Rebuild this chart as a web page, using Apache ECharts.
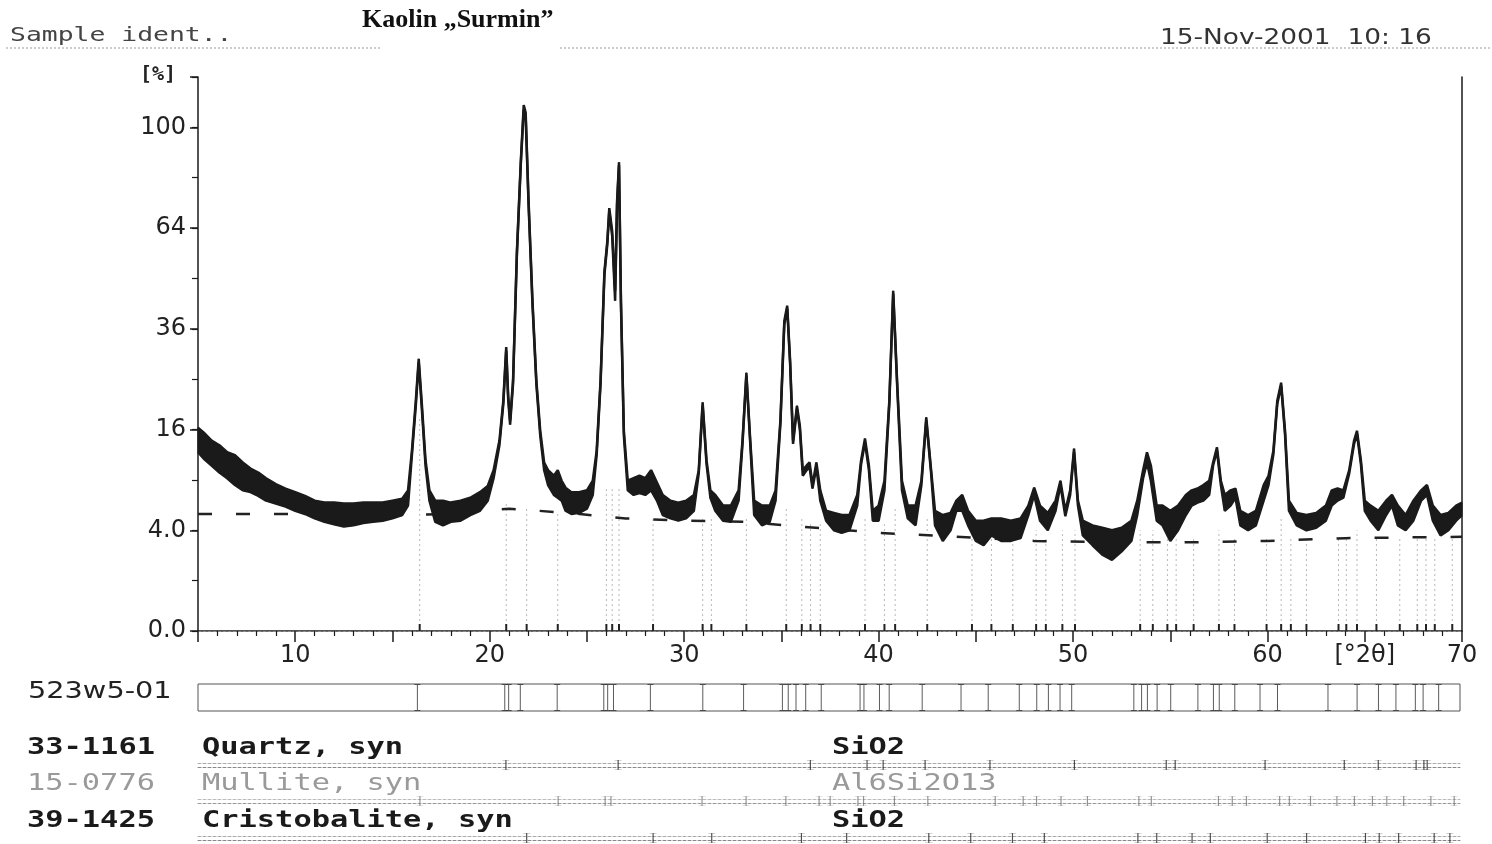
<!DOCTYPE html>
<html>
<head>
<meta charset="utf-8">
<script src="https://cdn.jsdelivr.net/npm/echarts@6/dist/echarts.min.js"></script>
<style>
html, body { margin: 0; padding: 0; background: #fff; }
#chart { width: 1492px; height: 844px; }
</style>
</head>
<body>
<div id="chart"></div>
<script>
// scan: 2theta and the lower / upper edge of the noisy trace, in %
var twoTheta = [
  5.0,5.3,5.7,6.1,6.5,6.9,7.3,7.7,8.1,8.5,
  9.0,9.5,10.0,10.5,11.0,11.5,12.0,12.5,13.0,13.5,
  14.0,14.5,15.0,15.5,15.8,16.0,16.2,16.35,16.5,16.7,
  16.9,17.2,17.6,18.0,18.5,19.0,19.5,19.9,20.2,20.5,
  20.7,20.85,20.95,21.05,21.2,21.4,21.6,21.75,21.85,22.0,
  22.2,22.4,22.6,22.8,23.0,23.3,23.5,23.7,23.9,24.2,
  24.6,25.0,25.3,25.5,25.7,25.9,26.05,26.15,26.3,26.45,
  26.55,26.65,26.75,26.9,27.1,27.4,27.7,28.0,28.3,28.6,
  28.9,29.3,29.7,30.1,30.5,30.75,30.95,31.15,31.35,31.6,
  32.0,32.4,32.8,33.0,33.2,33.4,33.6,34.0,34.4,34.7,
  34.95,35.15,35.3,35.45,35.6,35.8,35.95,36.1,36.3,36.45,
  36.6,36.8,37.0,37.3,37.7,38.1,38.5,38.9,39.1,39.3,
  39.5,39.7,40.0,40.3,40.55,40.75,40.95,41.2,41.5,41.9,
  42.2,42.45,42.7,42.9,43.3,43.7,44.0,44.3,44.6,45.0,
  45.4,45.8,46.3,46.8,47.3,47.7,48.0,48.3,48.7,49.1,
  49.35,49.6,49.85,50.05,50.25,50.5,51.0,51.5,52.0,52.5,
  53.0,53.3,53.6,53.8,54.0,54.3,54.6,55.0,55.4,55.8,
  56.1,56.4,56.7,57.0,57.2,57.4,57.6,57.8,58.1,58.35,
  58.6,59.0,59.4,59.8,60.05,60.3,60.5,60.7,60.9,61.1,
  61.5,62.0,62.5,63.0,63.3,63.6,63.9,64.2,64.45,64.6,
  64.8,65.0,65.3,65.7,66.1,66.4,66.7,67.1,67.5,67.9,
  68.2,68.5,68.9,69.3,69.7,70.0
];
var traceLow = [
  12.6,11.7,10.8,9.9,9.2,8.4,7.8,7.6,7.2,6.7,
  6.4,6.1,5.7,5.4,5.0,4.7,4.5,4.3,4.4,4.6,
  4.7,4.8,5.0,5.3,6.2,12.2,20.0,28.4,20.0,10.8,
  6.7,4.7,4.4,4.7,4.8,5.3,5.7,6.7,9.2,13.6,
  20.3,31.0,21.2,16.8,24.0,56.0,86.0,107,104,71.5,
  42.0,24.0,15.0,10.2,8.4,7.3,7.0,6.7,5.7,5.4,
  5.5,5.9,7.3,12.2,24.0,50.0,59.0,69.5,61.5,43.0,
  71.5,85.5,42.0,15.0,7.8,7.3,7.5,7.3,7.8,6.7,
  5.3,5.0,4.8,5.0,5.7,9.8,20.0,11.0,7.0,5.7,
  4.8,4.7,6.7,13.8,25.7,13.8,5.3,4.4,4.7,6.7,
  17.0,37.0,41.0,28.0,13.8,19.5,16.0,9.5,10.2,10.6,
  8.0,10.6,6.7,4.8,4.0,3.8,4.0,6.2,11.0,14.0,
  10.2,4.8,4.8,7.8,20.3,44.8,24.0,7.8,5.0,4.4,
  8.4,17.5,9.8,4.4,3.2,4.0,5.7,5.7,4.4,3.2,
  2.9,3.6,3.2,3.2,3.4,5.3,7.3,4.8,4.0,5.7,
  8.4,5.2,7.3,12.6,6.2,3.6,2.9,2.3,2.0,2.5,
  3.2,5.3,9.2,11.2,8.9,4.8,4.4,3.2,4.0,5.3,
  6.2,6.5,6.7,7.3,10.8,12.8,8.4,5.7,6.2,7.0,
  4.4,4.0,4.4,6.7,8.4,12.3,20.3,23.7,15.2,5.7,
  4.4,4.0,4.2,4.8,6.2,6.7,7.0,9.8,13.8,15.3,
  11.0,5.7,4.8,4.0,5.3,6.2,4.4,4.0,4.8,6.7,
  7.3,4.8,3.6,4.0,4.8,5.3
];
var traceHigh = [
  16.3,15.5,14.3,13.6,12.6,12.2,11.2,10.4,9.9,9.2,
  8.5,8.0,7.6,7.2,6.7,6.5,6.5,6.4,6.4,6.5,
  6.5,6.5,6.7,6.9,7.8,12.8,20.9,29.2,20.9,11.5,
  7.8,6.7,6.7,6.5,6.7,7.0,7.6,8.3,10.2,14.3,
  20.9,31.8,21.9,17.5,24.7,56.9,87.0,109,106,72.8,
  43.0,24.7,15.8,11.2,10.2,9.5,10.2,8.9,8.1,7.6,
  7.6,7.8,8.9,12.8,24.7,51.0,60.0,70.5,63.0,45.6,
  72.8,86.6,43.0,15.8,8.9,9.2,9.5,9.2,10.2,8.7,
  7.3,6.7,6.5,6.7,7.3,10.2,20.6,11.5,7.8,7.3,
  6.2,6.2,7.8,14.3,26.3,14.3,6.7,6.2,6.2,7.8,
  17.5,37.9,41.7,28.8,14.3,20.0,16.6,10.2,10.8,11.2,
  8.4,11.2,7.8,5.7,5.5,5.3,5.3,7.3,11.5,14.6,
  10.8,5.7,6.2,8.9,20.9,45.6,24.7,8.9,6.2,6.2,
  8.9,18.0,10.2,5.7,5.3,5.5,6.7,7.3,5.7,4.8,
  4.8,5.0,5.0,4.8,5.0,6.2,8.1,6.2,5.5,6.7,
  8.9,5.7,7.8,13.1,6.7,4.8,4.4,4.2,4.0,4.2,
  4.8,6.7,10.2,12.6,10.8,6.2,6.2,5.7,6.2,7.3,
  7.8,8.0,8.4,8.9,11.2,13.3,8.9,7.3,7.8,8.0,
  5.7,5.3,5.7,8.4,9.5,12.8,20.9,24.3,15.8,6.7,
  5.5,5.3,5.5,6.2,7.8,8.0,7.8,10.2,14.3,15.8,
  11.5,6.7,6.2,5.7,6.7,7.3,6.2,5.3,6.7,7.8,
  8.4,6.2,5.3,5.5,6.2,6.5
];

// fitted background (dashed)
var bgTheta = [5,10,15,18,21,24,27,30,33,36,40,44,48,52,56,60,64,70];
var bgPct = [5.4,5.4,5.3,5.4,5.9,5.5,5.0,4.8,4.7,4.3,3.8,3.5,3.2,3.1,3.1,3.2,3.4,3.5];

// reference sticks drawn under the scan
var stickTheta = [16.4,20.85,21.9,23.5,26.0,26.3,26.65,28.4,30.95,31.4,33.2,35.25,36.05,36.5,37.0,39.3,
  40.3,40.85,42.5,44.8,45.8,46.9,48.1,48.6,49.45,50.1,53.45,54.1,54.85,55.3,56.2,57.5,58.3,59.95,
  60.7,61.2,62.0,63.65,64.05,64.6,65.6,66.8,67.7,68.15,68.6,69.5];
var stickTop = [18,6.5,6,5.5,8,8,8,5,5,5,5,6,5,4.5,4.5,5,
  4.5,6,5,4,3.5,3.5,4,3.5,4,4,4,4,3.5,3.5,3.5,4,3.5,3.5,
  5,3.5,3.5,3.5,3.5,4,3.5,3.5,3.5,3.5,3.5,3.5];

// peak list of the sample (523w5-01)
var obsTheta = [16.3,20.8,21.0,21.6,23.5,25.9,26.1,26.4,28.3,31.0,33.1,35.1,35.4,35.8,36.3,37.1,
  39.1,39.3,40.1,40.6,42.3,44.3,45.7,47.3,48.2,48.8,49.4,50.0,53.2,53.6,53.9,54.4,55.1,
  56.5,57.3,57.6,58.4,59.7,60.6,63.2,64.7,65.8,66.7,67.7,68.1,68.9];

// reference patterns
var quartzTheta = [20.86,26.64,36.54,39.46,40.29,42.45,45.79,50.14,54.87,55.33,59.96,64.04,65.79,67.74,68.14,68.31];
var mulliteTheta = [16.43,23.55,25.97,26.27,30.96,33.23,35.28,36.99,37.56,38.99,39.28,40.87,42.59,46.06,
  47.5,48.19,49.45,50.81,53.46,54.1,57.56,58.27,59.0,60.71,61.21,62.3,63.66,64.56,65.49,66.23,67.1,68.5,69.7];
var cristobaliteTheta = [21.93,28.44,31.46,36.08,38.41,42.64,44.8,46.95,48.59,53.41,54.38,56.2,57.14,
  60.07,62.1,65.13,65.84,66.84,68.67,69.48];

// tick labels
var xLabelValues = [10,20,30,40,50,60,65,70];
var xLabelTexts = ['10','20','30','40','50','60','[°2θ]','70'];
var yTickValues = [0,4,16,36,64,100];
var yTickTexts = ['0.0','4.0','16','36','64','100'];

function sq(v) { return Math.sqrt(Math.max(v, 0)); }

var chart = echarts.init(document.getElementById('chart'));

// the y axis is drawn on a square-root scale, so the series carry sqrt(%)
var lowData = twoTheta.map(function (t, i) { return [t, sq(traceLow[i])]; });
var highData = twoTheta.map(function (t, i) { return [t, sq(traceHigh[i])]; });
var bandData = twoTheta.map(function (t, i) { return [t, sq(traceLow[i]), sq(traceHigh[i])]; });
var bgData = bgTheta.map(function (t, i) { return [t, sq(bgPct[i])]; });
var stickData = stickTheta.map(function (t, i) { return [t, sq(stickTop[i])]; });

var ibeam = 'path://M0,0H6V1H3.5V26H6V27H0V26H2.5V1H0Z';
var monoFont = 'DejaVu Sans Mono';
var black = '#1a1a1a';

function hiddenX(grid, pos, color) {
  return {
    type: 'value', gridIndex: grid, min: 5, max: 70, position: pos,
    axisLine: { show: !!color, lineStyle: { color: color || '#000', width: 1, type: [3, 2] } },
    axisTick: { show: false }, axisLabel: { show: false }, splitLine: { show: false }
  };
}
function hiddenY(grid) {
  return { type: 'value', gridIndex: grid, min: 0, max: 1, show: false };
}
function label(text, x, y, opts) {
  opts = opts || {};
  return {
    type: 'text', x: x, y: y, scaleX: opts.sx || 1, silent: true,
    style: {
      text: text, fill: opts.color || black, verticalAlign: 'middle',
      font: (opts.weight || 'normal') + ' ' + (opts.size || 22) + 'px ' + (opts.family || 'DejaVu Sans')
    }
  };
}
function dots(x1, y, x2, color) {
  return {
    type: 'line', silent: true, shape: { x1: x1, y1: y, x2: x2, y2: y },
    style: { stroke: color || '#9a9a9a', lineWidth: 1, lineDash: [2, 2] }
  };
}

var rowFont = { family: monoFont, size: 23, sx: 1.32, weight: 'bold' };
var rowFontGray = { family: monoFont, size: 23, sx: 1.32, weight: 'normal', color: '#9a9a9a' };

var option = {
  animation: false,
  backgroundColor: '#fff',
  grid: [
    { left: 198, top: 77, width: 1264, height: 554, outerBoundsMode: 'none' },
    { left: 198, top: 684, width: 1262, height: 27, show: true, borderColor: '#555', borderWidth: 1, outerBoundsMode: 'none' },
    { left: 198, top: 763, width: 1262, height: 4, outerBoundsMode: 'none' },
    { left: 198, top: 799, width: 1262, height: 4, outerBoundsMode: 'none' },
    { left: 198, top: 836, width: 1262, height: 4, outerBoundsMode: 'none' }
  ],
  xAxis: [
    {
      type: 'value', gridIndex: 0, min: 5, max: 70, interval: 5,
      axisLine: { lineStyle: { color: black, width: 1.5 } },
      axisTick: { length: 11, lineStyle: { color: black, width: 1.5 } },
      minorTick: { show: true, splitNumber: 5, length: 5, lineStyle: { color: black, width: 1.2 } },
      splitLine: { show: false },
      axisLabel: {
        color: '#222', fontFamily: 'DejaVu Sans', fontSize: 24, margin: 13,
        formatter: function (v) {
          var i = xLabelValues.indexOf(Math.round(v));
          return i < 0 ? '' : xLabelTexts[i];
        }
      }
    },
    hiddenX(0, 'top', '#8a8a8a'),
    hiddenX(1, 'bottom'),
    hiddenX(2, 'bottom', '#888'), hiddenX(2, 'top', '#aaa'),
    hiddenX(3, 'bottom', '#999'), hiddenX(3, 'top', '#bbb'),
    hiddenX(4, 'bottom', '#888'), hiddenX(4, 'top', '#aaa')
  ],
  yAxis: [
    {
      type: 'value', gridIndex: 0, min: 0, max: 11, interval: 2, position: 'left',
      axisLine: { show: true, lineStyle: { color: black, width: 1.5 } },
      axisTick: { show: true, length: 8, lineStyle: { color: black, width: 1.5 } },
      splitLine: { show: false },
      axisLabel: {
        color: '#222', fontFamily: 'DejaVu Sans', fontSize: 24, margin: 12,
        formatter: function (v) {
          var i = yTickValues.indexOf(Math.round(v * v));
          return i < 0 ? '' : yTickTexts[i];
        }
      }
    },
    {
      type: 'value', gridIndex: 0, min: 0, max: 11, interval: 1, position: 'left', offset: 0,
      axisLine: { show: false },
      axisTick: { show: true, length: 6, lineStyle: { color: black, width: 1.2 } },
      axisLabel: { show: false }, splitLine: { show: false }
    },
    {
      type: 'value', gridIndex: 0, min: 0, max: 11, position: 'right',
      axisLine: { show: true, lineStyle: { color: black, width: 1.5 } },
      axisTick: { show: false }, axisLabel: { show: false }, splitLine: { show: false }
    },
    hiddenY(1), hiddenY(2), hiddenY(3), hiddenY(4)
  ],
  series: [
    {
      type: 'custom', xAxisIndex: 0, yAxisIndex: 0, z: 1, data: stickData, silent: true,
      renderItem: function (params, api) {
        var p0 = api.coord([api.value(0), 0]);
        var p1 = api.coord([api.value(0), api.value(1)]);
        return {
          type: 'group', children: [
            { type: 'line', shape: { x1: p0[0], y1: p0[1], x2: p1[0], y2: p1[1] },
              style: { stroke: '#b8b8b8', lineWidth: 1, lineDash: [2, 3] } },
            { type: 'line', shape: { x1: p0[0], y1: p0[1], x2: p0[0], y2: p0[1] - 7 },
              style: { stroke: '#222', lineWidth: 2 } }
          ]
        };
      }
    },
    {
      type: 'line', xAxisIndex: 0, yAxisIndex: 0, data: bgData, z: 2,
      showSymbol: false, silent: true,
      lineStyle: { color: '#222', width: 2.5, type: [14, 24] }
    },
    {
      // filled band between the low and high edge of the noisy trace, one polygon
      type: 'custom', xAxisIndex: 0, yAxisIndex: 0, z: 3, data: bandData, silent: true,
      renderItem: function (params, api) {
        if (params.dataIndex !== 0) return null;
        var top = [], bottom = [];
        for (var i = 0; i < bandData.length; i++) {
          top.push(api.coord([bandData[i][0], bandData[i][2]]));
          bottom.unshift(api.coord([bandData[i][0], bandData[i][1]]));
        }
        return {
          type: 'polygon', shape: { points: top.concat(bottom) },
          style: { fill: black, stroke: black, lineWidth: 1 }
        };
      }
    },
    {
      type: 'line', xAxisIndex: 0, yAxisIndex: 0, data: lowData, z: 4,
      showSymbol: false, silent: true,
      lineStyle: { color: black, width: 2.5 }
    },
    {
      type: 'line', xAxisIndex: 0, yAxisIndex: 0, data: highData, z: 4,
      showSymbol: false, silent: true,
      lineStyle: { color: black, width: 2.5 }
    },
    {
      type: 'scatter', xAxisIndex: 2, yAxisIndex: 3, symbol: ibeam, symbolSize: [6, 27],
      itemStyle: { color: '#333' }, silent: true,
      data: obsTheta.map(function (t) { return [t, 0.5]; })
    },
    {
      type: 'scatter', xAxisIndex: 3, yAxisIndex: 4, symbol: ibeam, symbolSize: [7, 10],
      itemStyle: { color: '#222' }, silent: true,
      data: quartzTheta.map(function (t) { return [t, 0.5]; })
    },
    {
      type: 'scatter', xAxisIndex: 5, yAxisIndex: 5, symbol: ibeam, symbolSize: [7, 10],
      itemStyle: { color: '#777' }, silent: true,
      data: mulliteTheta.map(function (t) { return [t, 0.5]; })
    },
    {
      type: 'scatter', xAxisIndex: 7, yAxisIndex: 6, symbol: ibeam, symbolSize: [7, 10],
      itemStyle: { color: '#222' }, silent: true,
      data: cristobaliteTheta.map(function (t) { return [t, 0.5]; })
    }
  ],
  graphic: [
    label('Sample ident..', 10, 36, { family: monoFont, size: 20, sx: 1.32, color: '#444' }),
    dots(6, 48, 380),
    dots(560, 48, 1490),
    label('Kaolin \u201ESurmin\u201D', 362, 20, { family: 'Liberation Serif', size: 26, weight: 'bold', color: '#111' }),
    label('15-Nov-2001  10: 16', 1160, 38, { size: 22, sx: 1.2, color: '#333' }),
    label('[%]', 140, 75, { family: monoFont, size: 20, weight: 'bold', color: '#222' }),
    label('523w5-01', 28, 692, { size: 23, sx: 1.25, color: '#222' }),
    label('33-1161', 27, 748, rowFont),
    label('Quartz, syn', 202, 748, rowFont),
    label('SiO2', 832, 748, rowFont),
    label('15-0776', 27, 784, rowFontGray),
    label('Mullite, syn', 202, 784, rowFontGray),
    label('Al6Si2O13', 832, 784, rowFontGray),
    label('39-1425', 27, 821, rowFont),
    label('Cristobalite, syn', 202, 821, rowFont),
    label('SiO2', 832, 821, rowFont)
  ]
};

chart.setOption(option);
</script>
</body>
</html>
